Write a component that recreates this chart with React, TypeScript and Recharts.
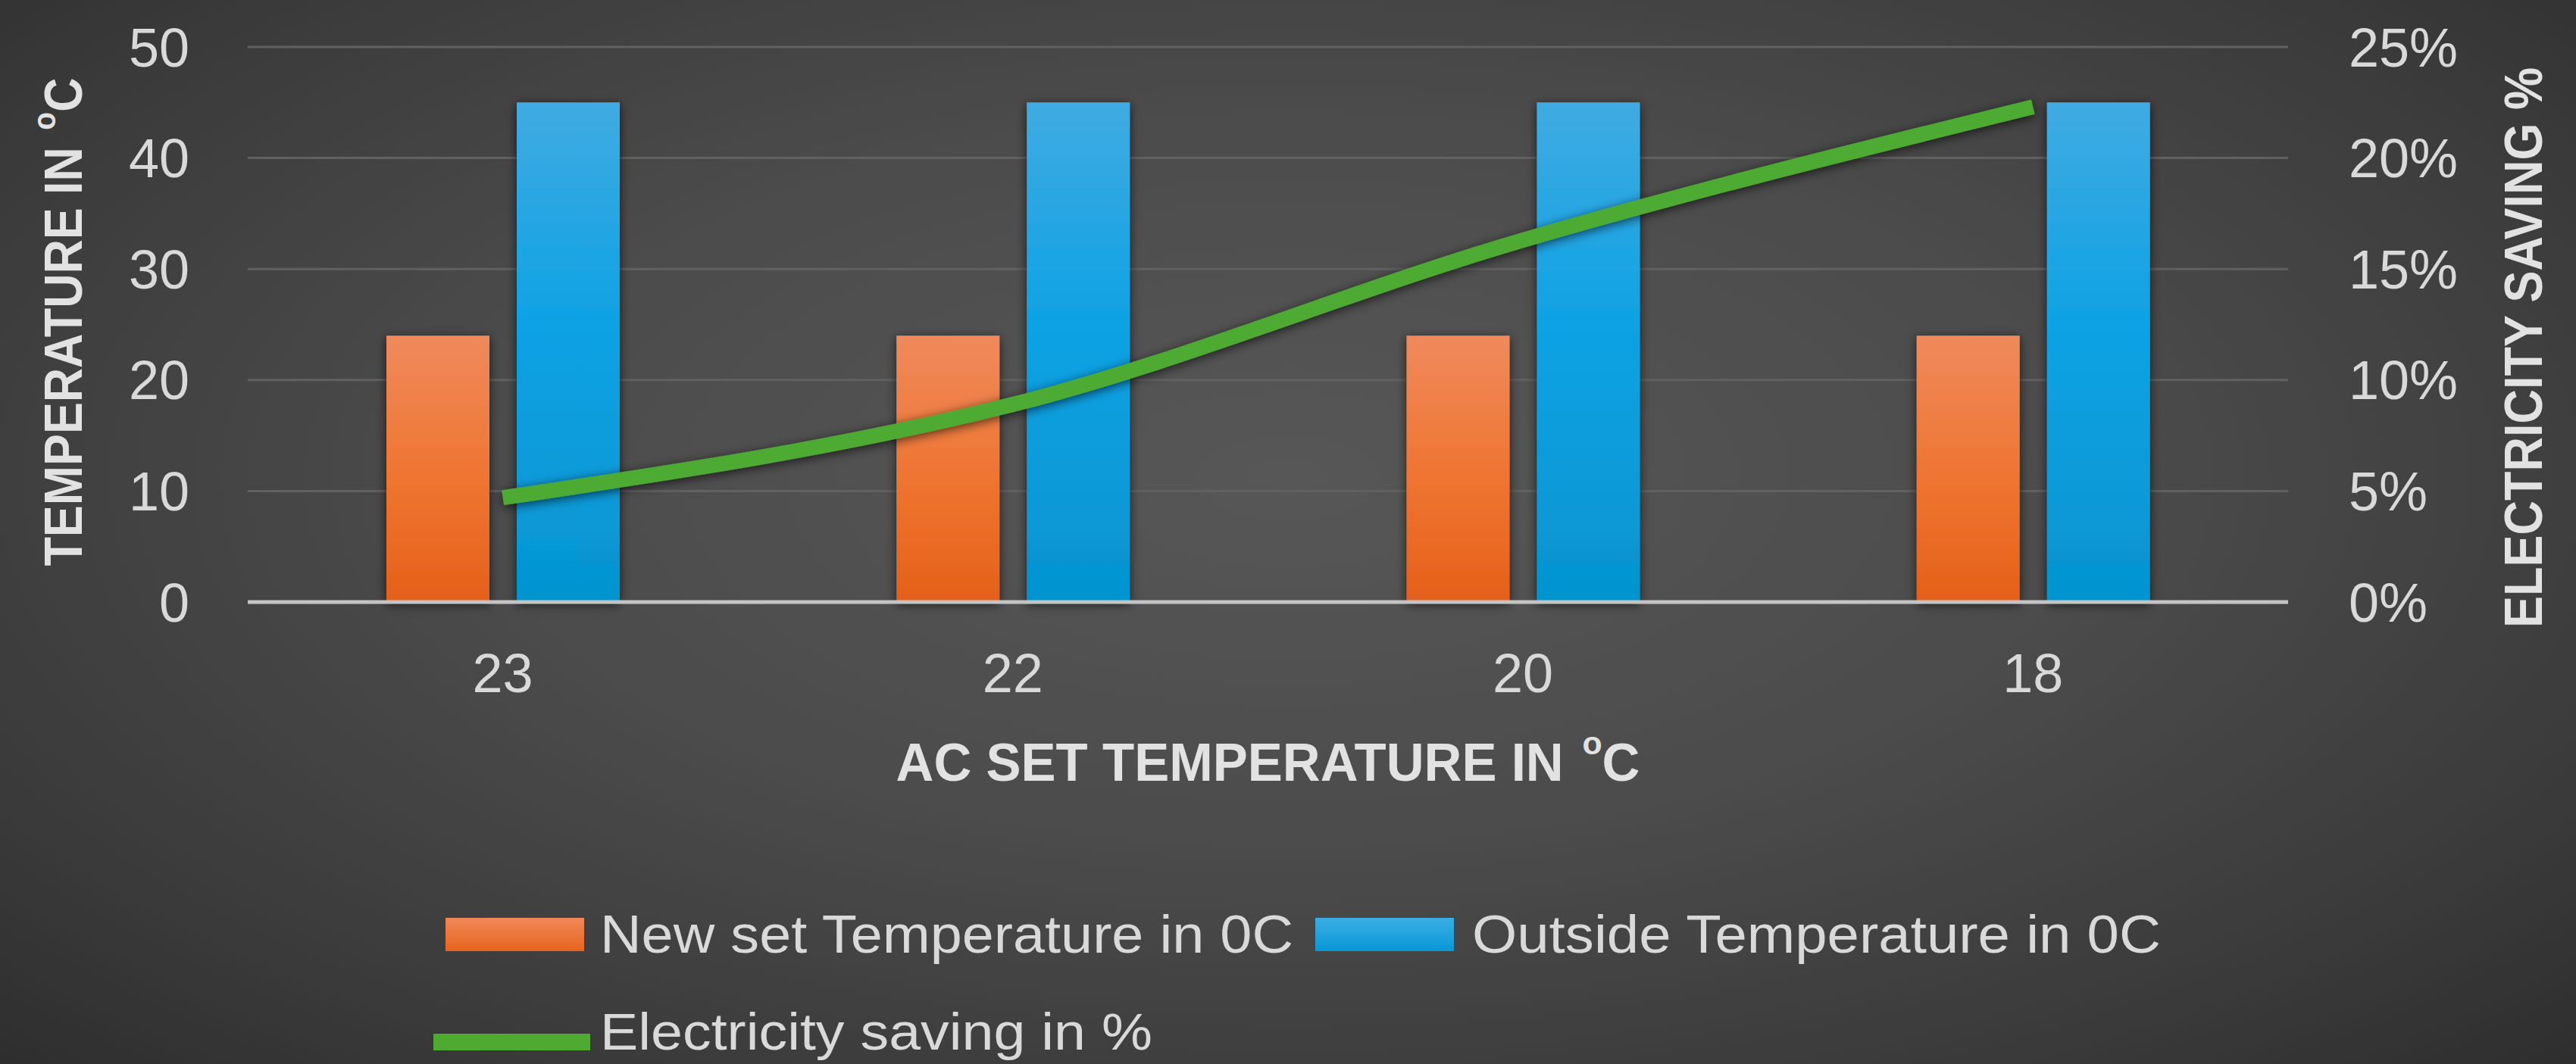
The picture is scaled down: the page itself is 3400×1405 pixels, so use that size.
import { ComposedChart, Bar, Line, XAxis, YAxis, CartesianGrid } from 'recharts';

const categories = ['23', '22', '20', '18'];
const newSetTemp = [24, 24, 24, 24];
const outsideTemp = [45, 45, 45, 45];
const savingPct = [4.7, 8.9, 16.3, 22.3];
const leftTicks = [0, 10, 20, 30, 40, 50];
const rightTicks = [0, 5, 10, 15, 20, 25];
const seriesNames = ['New set Temperature in 0C', 'Outside Temperature in 0C', 'Electricity saving in %'];

const data = categories.map((c, i) => ({
  name: c,
  newSet: newSetTemp[i],
  outside: outsideTemp[i],
  saving: savingPct[i],
}));

const FONT = '"Liberation Sans", Arial, sans-serif';
const TICK = '#d9d9d9';
const TITLE = '#e2e2e2';

// superscript degree "o" then C
function Deg({ text, size }: { text: string; size: number }) {
  return (
    <>
      {text}
      <tspan fontSize={size * 0.62} dy={-size * 0.5} dx={size * 0.08}>o</tspan>
      <tspan dy={size * 0.5}>C</tspan>
    </>
  );
}

function XTitle(props: any) {
  const { x, y, width } = props.viewBox;
  return (
    <text x={x + width / 2} y={y + 236} textAnchor="middle" fill={TITLE} fontSize={70} fontWeight="bold"
      textLength={982} lengthAdjust="spacingAndGlyphs">
      <Deg text="AC SET TEMPERATURE IN " size={70} />
    </text>
  );
}

function LeftTitle() {
  return (
    <text x={0} y={0} transform="translate(108 425) rotate(-90)" textAnchor="middle" fill={TITLE} fontSize={70}
      fontWeight="bold" textLength={645} lengthAdjust="spacingAndGlyphs">
      <Deg text="TEMPERATURE IN " size={70} />
    </text>
  );
}

function RightTitle() {
  return (
    <text x={0} y={0} transform="translate(3355 459) rotate(-90)" textAnchor="middle" fill={TITLE} fontSize={70}
      fontWeight="bold" textLength={740} lengthAdjust="spacingAndGlyphs">
      ELECTRICITY SAVING %
    </text>
  );
}

function LegendBox() {
  return (
    <svg width={3400} height={1405} style={{ position: 'absolute', left: 0, top: 0, pointerEvents: 'none', fontFamily: FONT }}>
      <defs>
        <linearGradient id="lgOrange" x1="0" y1="0" x2="0" y2="1">
          <stop offset="0%" stopColor="#F0885A" />
          <stop offset="100%" stopColor="#E8631C" />
        </linearGradient>
        <linearGradient id="lgBlue" x1="0" y1="0" x2="0" y2="1">
          <stop offset="0%" stopColor="#3CADE4" />
          <stop offset="100%" stopColor="#0898D6" />
        </linearGradient>
      </defs>
      <rect x={588} y={1212} width={183} height={44} fill="url(#lgOrange)" />
      <text x={792} y={1258} fill={TICK} fontSize={70} textLength={915} lengthAdjust="spacingAndGlyphs">{seriesNames[0]}</text>
      <rect x={1736} y={1212} width={183} height={44} fill="url(#lgBlue)" />
      <text x={1943} y={1258} fill={TICK} fontSize={70} textLength={909} lengthAdjust="spacingAndGlyphs">{seriesNames[1]}</text>
      <line x1={572} x2={779} y1={1376} y2={1376} stroke="#4EAA30" strokeWidth={22} />
      <text x={792} y={1386} fill={TICK} fontSize={68} textLength={729} lengthAdjust="spacingAndGlyphs">{seriesNames[2]}</text>
    </svg>
  );
}

export default function App() {
  return (
    <div
      style={{
        position: 'absolute',
        left: 0,
        top: 0,
        width: 3400,
        height: 1405,
        fontFamily: FONT,
        background: 'radial-gradient(ellipse at 50% 45%, #575757 0%, #4b4b4b 45%, #3a3a3a 80%, #2e2e2e 100%)',
      }}
    >
      <ComposedChart width={3400} height={1405} data={data} margin={{ top: 62, right: 0, bottom: 0, left: 0 }}
        barSize={136} barGap={36}>
        <defs>
          <linearGradient id="gOrange" x1="0" y1="0" x2="0" y2="1">
            <stop offset="0%" stopColor="#EF8A5C" />
            <stop offset="55%" stopColor="#EF7430" />
            <stop offset="100%" stopColor="#E5601A" />
          </linearGradient>
          <linearGradient id="gBlue" x1="0" y1="0" x2="0" y2="1">
            <stop offset="0%" stopColor="#40ABE2" />
            <stop offset="45%" stopColor="#0DA2E4" />
            <stop offset="100%" stopColor="#0594D0" />
          </linearGradient>
          <filter id="shadow" x="-20%" y="-20%" width="140%" height="140%">
            <feDropShadow dx="0" dy="3" stdDeviation="7" floodColor="#000" floodOpacity="0.65" />
          </filter>
        </defs>
        <CartesianGrid yAxisId="left" vertical={false} stroke="#616161" strokeWidth={3} />
        <XAxis dataKey="name" height={610} tickSize={0} tickMargin={68} tickLine={false}
          axisLine={{ stroke: '#c4c4c4', strokeWidth: 5 }} tick={{ fill: TICK, fontSize: 72 }}
          label={<XTitle />} />
        <YAxis yAxisId="left" orientation="left" width={327} domain={[0, 50]} ticks={leftTicks}
          tickSize={0} tickMargin={77} tickLine={false} axisLine={false} tick={{ fill: TICK, fontSize: 72 }} />
        <YAxis yAxisId="right" orientation="right" width={380} domain={[0, 25]} ticks={rightTicks}
          tickSize={0} tickMargin={80} tickLine={false} axisLine={false} tick={{ fill: TICK, fontSize: 72 }}
          tickFormatter={(v) => `${v}%`} />
        <Bar yAxisId="left" dataKey="newSet" name={seriesNames[0]} fill="url(#gOrange)" filter="url(#shadow)"
          isAnimationActive={false} />
        <Bar yAxisId="left" dataKey="outside" name={seriesNames[1]} fill="url(#gBlue)" filter="url(#shadow)"
          isAnimationActive={false} />
        <Line yAxisId="right" dataKey="saving" name={seriesNames[2]} type="monotone" stroke="#4EAA30"
          strokeWidth={20} dot={false} filter="url(#shadow)" isAnimationActive={false} />
        <LeftTitle />
        <RightTitle />
      </ComposedChart>
      <LegendBox />
    </div>
  );
}
